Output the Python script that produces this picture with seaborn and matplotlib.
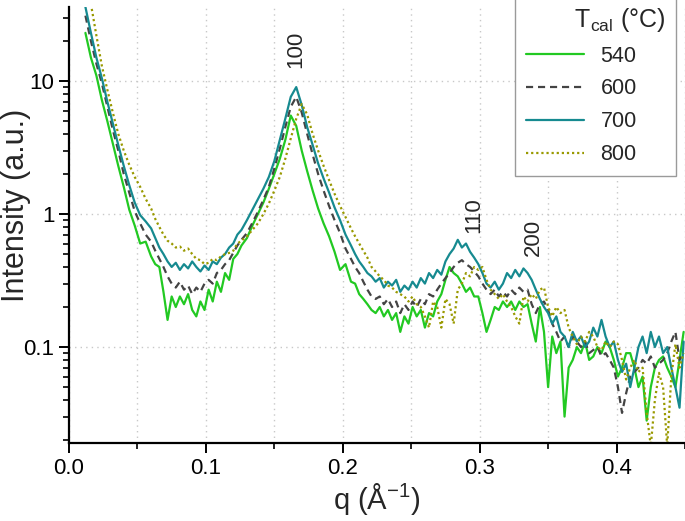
import numpy as np
import pandas as pd
import matplotlib
matplotlib.use("Agg")
import matplotlib.pyplot as plt
import seaborn as sns
from matplotlib.ticker import MultipleLocator, LogLocator, FixedLocator, FuncFormatter, NullFormatter

# ---------------- data ----------------
q = np.round(np.concatenate([
    np.linspace(0.012, 0.060, 13),
    np.linspace(0.063, 0.126, 22),
    np.linspace(0.130, 0.206, 20),
    np.linspace(0.209, 0.449, 81),
]), 4)

temps = ["540", "600", "700", "800"]

i540 = [23, 15, 11, 7.2, 5.0, 3.4, 2.3, 1.6, 1.08, 0.82, 0.60, 0.62, 0.48,
        0.42, 0.40, 0.26, 0.16, 0.24, 0.20, 0.24, 0.21, 0.25, 0.19, 0.17, 0.22, 0.19, 0.27, 0.22,
        0.31, 0.26, 0.36, 0.32, 0.46, 0.50, 0.58,
        0.66, 0.82, 1.0, 1.22, 1.55, 2.0, 2.6, 3.6, 5.5, 4.6, 3.0, 2.1, 1.5, 1.1, 0.85, 0.68,
        0.52, 0.38, 0.42, 0.31,
        0.30, 0.25, 0.23, 0.21, 0.19, 0.18, 0.20, 0.17, 0.19, 0.16,
        0.18, 0.13, 0.17, 0.15, 0.20, 0.17, 0.19, 0.14, 0.18, 0.17,
        0.22, 0.25, 0.32, 0.40, 0.36, 0.34, 0.30, 0.26, 0.28, 0.24,
        0.24, 0.18, 0.13, 0.16, 0.20, 0.19, 0.22, 0.20, 0.22, 0.19,
        0.22, 0.20, 0.21, 0.15, 0.11, 0.20, 0.13, 0.05, 0.12, 0.09,
        0.11, 0.03, 0.07, 0.08, 0.10, 0.09, 0.11, 0.08, 0.085, 0.10,
        0.09, 0.11, 0.10, 0.08, 0.06, 0.07, 0.09, 0.09, 0.07, 0.05,
        0.06, 0.028, 0.05, 0.07, 0.08, 0.085, 0.07, 0.06, 0.05, 0.08,
        0.13]

i600 = [31, 20, 13.5, 9.6, 6.4, 4.3, 3.0, 2.0, 1.45, 1.05, 0.85, 0.70, 0.62,
        0.53, 0.46, 0.40, 0.34, 0.30, 0.28, 0.31, 0.27, 0.29, 0.25, 0.28, 0.26, 0.30, 0.32, 0.30,
        0.36, 0.38, 0.42, 0.45, 0.51, 0.58, 0.64,
        0.72, 0.86, 1.04, 1.28, 1.6, 2.2, 3.1, 4.5, 6.4, 7.6, 5.8, 4.0, 2.8, 2.0, 1.5, 1.15,
        0.9, 0.72, 0.55, 0.46,
        0.40, 0.36, 0.31, 0.27, 0.24, 0.23, 0.24, 0.21, 0.23, 0.20,
        0.22, 0.18, 0.21, 0.19, 0.22, 0.20, 0.23, 0.21, 0.25, 0.24,
        0.27, 0.30, 0.33, 0.36, 0.40, 0.43, 0.45, 0.42, 0.40, 0.37,
        0.34, 0.30, 0.27, 0.25, 0.27, 0.24, 0.26, 0.24, 0.27, 0.25,
        0.28, 0.26, 0.27, 0.21, 0.18, 0.21, 0.22, 0.19, 0.15, 0.13,
        0.11, 0.12, 0.10, 0.12, 0.11, 0.10, 0.11, 0.09, 0.095, 0.10,
        0.085, 0.09, 0.08, 0.07, 0.05, 0.032, 0.045, 0.06, 0.065, 0.07,
        0.08, 0.075, 0.085, 0.07, 0.075, 0.08, 0.09, 0.11, 0.13, 0.08,
        0.09]

i700 = [36, 23, 15, 10.5, 7.0, 4.8, 3.3, 2.3, 1.65, 1.22, 0.98, 0.88, 0.78,
        0.66, 0.56, 0.50, 0.44, 0.40, 0.43, 0.38, 0.42, 0.39, 0.44, 0.40, 0.37, 0.41, 0.38, 0.44,
        0.42, 0.47, 0.50, 0.56, 0.60, 0.70, 0.76,
        0.90, 1.08, 1.30, 1.55, 1.9, 2.5, 3.6, 5.2, 7.6, 9.0, 6.6, 4.5, 3.3, 2.4, 1.85, 1.45,
        1.12, 0.90, 0.70, 0.58,
        0.50, 0.44, 0.40, 0.36, 0.34, 0.31, 0.33, 0.28, 0.31, 0.29,
        0.32, 0.26, 0.29, 0.27, 0.31, 0.28, 0.33, 0.30, 0.36, 0.33,
        0.38, 0.35, 0.44, 0.50, 0.55, 0.64, 0.56, 0.60, 0.52, 0.47,
        0.42, 0.36, 0.30, 0.28, 0.31, 0.27, 0.30, 0.36, 0.33, 0.38,
        0.34, 0.39, 0.36, 0.32, 0.27, 0.23, 0.20, 0.18, 0.15, 0.17,
        0.13, 0.12, 0.10, 0.13, 0.11, 0.12, 0.10, 0.11, 0.14, 0.12,
        0.16, 0.12, 0.10, 0.11, 0.08, 0.065, 0.075, 0.05, 0.07, 0.10,
        0.12, 0.09, 0.13, 0.10, 0.12, 0.09, 0.10, 0.07, 0.05, 0.035,
        0.11]

i800 = [np.nan, 38, 22, 13, 8.6, 5.8, 4.0, 3.0, 2.35, 1.9, 1.6, 1.3, 1.1,
        0.92, 0.80, 0.70, 0.63, 0.60, 0.56, 0.57, 0.53, 0.55, 0.50, 0.46, 0.45, 0.42, 0.43, 0.46,
        0.45, 0.48, 0.50, 0.51, 0.53, 0.60, 0.63,
        0.68, 0.76, 0.85, 1.0, 1.2, 1.5, 1.9, 2.6, 3.7, 5.2, 6.7, 5.6, 4.0, 3.0, 2.3, 1.8,
        1.42, 1.15, 0.95, 0.78,
        0.68, 0.60, 0.53, 0.47, 0.40, 0.37, 0.34, 0.32, 0.29, 0.28,
        0.26, 0.25, 0.24, 0.22, 0.24, 0.21, 0.20, 0.17, 0.14, 0.22,
        0.20, 0.14, 0.23, 0.21, 0.15, 0.27, 0.30, 0.36, 0.34, 0.40,
        0.38, 0.40, 0.32, 0.27, 0.25, 0.23, 0.25, 0.22, 0.20, 0.17,
        0.15, 0.24, 0.22, 0.25, 0.23, 0.27, 0.28, 0.20, 0.17, 0.20,
        0.18, 0.19, 0.14, 0.12, 0.105, 0.12, 0.11, 0.13, 0.12, 0.10,
        0.095, 0.11, 0.10, 0.11, 0.105, 0.08, 0.057, 0.07, 0.08, 0.065,
        0.07, 0.032, 0.018, 0.04, 0.064, 0.05, 0.018, 0.06, 0.105, 0.07,
        0.09]

peak_labels = ["100", "110", "200"]
peak_q = [0.1654, 0.2958, 0.339]
peak_I = [17.4, 0.98, 0.67]

# ---------------- build long table ----------------
frames = []
for t, vals in zip(temps, [i540, i600, i700, i800]):
    assert len(vals) == len(q), (t, len(vals), len(q))
    frames.append(pd.DataFrame({"q": q, "I": vals, "T": t}))
df = pd.concat(frames, ignore_index=True).dropna()

# ---------------- style ----------------
sns.set_theme(style="ticks")
plt.rcParams["font.family"] = ["Liberation Sans", "DejaVu Sans"]
plt.rcParams["mathtext.fontset"] = "custom"
plt.rcParams["mathtext.rm"] = "Liberation Sans"
plt.rcParams["mathtext.it"] = "Liberation Sans:italic"

palette = {"540": "#22c922", "600": "#444444", "700": "#168a90", "800": "#999900"}
dashes = {"540": "", "600": (3.2, 2.2), "700": "", "800": (1, 1.3)}

fig = plt.figure(figsize=(6.85, 5.21), dpi=100)
ax = fig.add_axes([69 / 685, 1 - 443 / 521, 1 - 69 / 685, (443 - 7) / 521])

sns.lineplot(data=df, x="q", y="I", hue="T", style="T", hue_order=temps,
             style_order=temps, palette=palette, dashes=dashes,
             estimator=None, sort=False, linewidth=1.6, ax=ax)

ax.set_yscale("log")
ax.set_xlim(0, 0.45)
ax.set_ylim(0.019, 36)

ax.xaxis.set_major_locator(MultipleLocator(0.1))
ax.xaxis.set_minor_locator(MultipleLocator(0.05))
ax.xaxis.set_major_formatter(FuncFormatter(lambda v, p: f"{v:.1f}"))
ax.yaxis.set_major_locator(FixedLocator([0.1, 1, 10]))
ax.yaxis.set_minor_locator(LogLocator(base=10, subs=np.arange(2, 10)))
ax.yaxis.set_major_formatter(FuncFormatter(lambda v, p: f"{v:g}"))
ax.yaxis.set_minor_formatter(NullFormatter())

ax.grid(True, which="major", axis="y", linestyle=(0, (1, 3)), color="#c8c8c8", linewidth=1)
ax.grid(True, which="both", axis="x", linestyle=(0, (1, 3)), color="#c8c8c8", linewidth=1)

for s in ["top", "right"]:
    ax.spines[s].set_visible(False)
for s in ["left", "bottom"]:
    ax.spines[s].set_linewidth(1.6)
    ax.spines[s].set_color("black")

ax.tick_params(which="major", direction="out", length=7, width=1.4, labelsize=16, colors="black")
ax.tick_params(which="minor", direction="out", length=4, width=1.2, colors="black")

ax.set_xlabel("q (Å$^{-1}$)", fontsize=21, labelpad=2)
ax.set_ylabel("Intensity (a.u.)", fontsize=22)
ax.yaxis.set_label_coords(-0.062, 0.544)

for lab, xq, yi in zip(peak_labels, peak_q, peak_I):
    ax.text(xq, yi, lab, rotation=90, ha="center", va="center", fontsize=16)

sns.move_legend(ax, "upper right", bbox_to_anchor=(0.986, 1.0275),
                title="       T$_{\\mathrm{cal}}$ (°C)", frameon=True, fancybox=False,
                fontsize=15.5, title_fontsize=18, handlelength=2.7, handletextpad=0.75,
                labelspacing=0.55, borderpad=0.5, borderaxespad=0,
                edgecolor="#9a9a9a", framealpha=1, alignment="left")
leg = ax.get_legend()
leg.get_frame().set_linewidth(1.0)

fig.savefig("out.png", dpi=100)
